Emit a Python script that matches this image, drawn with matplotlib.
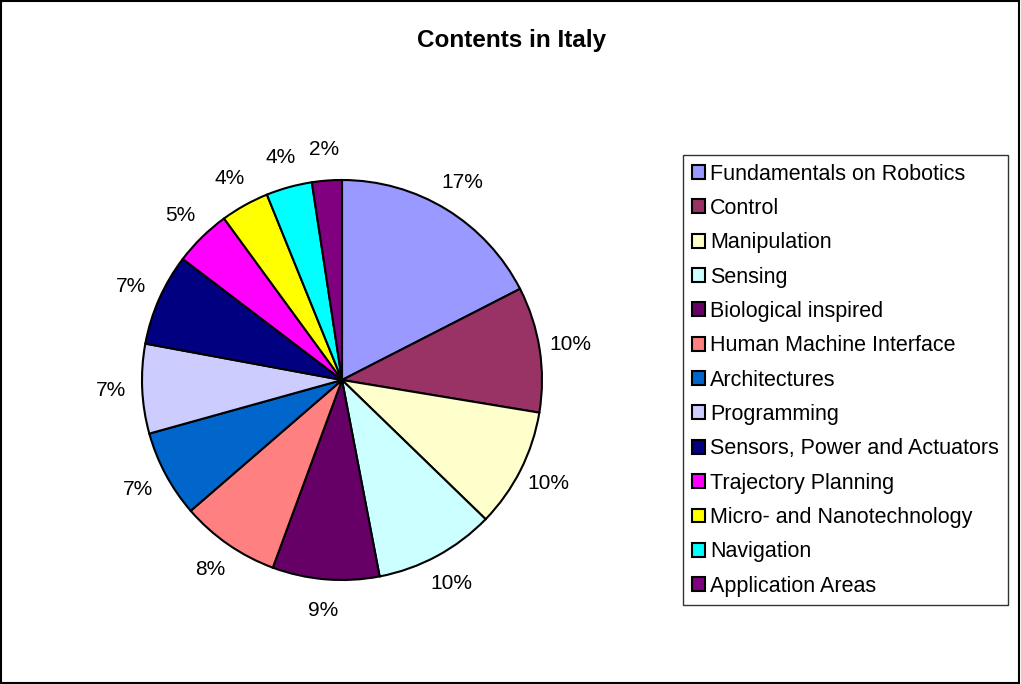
import matplotlib.pyplot as plt
from matplotlib.patches import Patch, Rectangle

plt.rcParams['font.family'] = ['Liberation Sans', 'DejaVu Sans']

# Data (share of contents, %)
topics = ["Fundamentals on Robotics", "Control", "Manipulation", "Sensing",
          "Biological inspired", "Human Machine Interface", "Architectures",
          "Programming", "Sensors, Power and Actuators", "Trajectory Planning",
          "Micro- and Nanotechnology", "Navigation", "Application Areas"]
shares = [17.4, 10.1, 9.6, 9.7, 8.6, 8.0, 7.0, 7.2, 7.4, 4.6, 3.9, 3.7, 2.4]
colors = ["#9999FF", "#993366", "#FFFFCC", "#CCFFFF", "#660066", "#FF8080",
          "#0066CC", "#CCCCFF", "#000080", "#FF00FF", "#FFFF00", "#00FFFF",
          "#800080"]

W, H = 1021, 684
fig = plt.figure(figsize=(W / 100, H / 100), dpi=100)

# pie area: centre (342, 380), radius 200 px
ax = fig.add_axes([(342 - 200) / W, (H - 580) / H, 400 / W, 400 / H])
wedges, texts, autotexts = ax.pie(
    shares, colors=colors, startangle=90, counterclock=False,
    autopct=lambda p: "{:.0f}%".format(p), pctdistance=1.155,
    wedgeprops=dict(edgecolor="black", linewidth=1.5),
    textprops=dict(fontsize=15, color="black"))
ax.set_xlim(-1, 1)
ax.set_ylim(-1, 1)
ax.set_aspect("equal")

fig.text(512 / W, 1 - 40 / H, "Contents in Italy", ha="center", va="center",
         fontsize=17.5, fontweight="bold")

handles = [Patch(facecolor=c, edgecolor="black", linewidth=1.5) for c in colors]
leg = fig.legend(handles, topics, loc="upper left",
                 bbox_to_anchor=(683 / W, 1 - 155 / H), borderaxespad=0,
                 fontsize=15.5, frameon=True, fancybox=False, shadow=False,
                 handlelength=0.62, handleheight=0.62, handletextpad=0.25,
                 labelspacing=0.62, borderpad=0.4)
leg.get_frame().set_edgecolor("black")
leg.get_frame().set_linewidth(1.0)

# outer chart border
fig.patches.append(Rectangle((0.001, 0.001), 0.997, 0.997, transform=fig.transFigure,
                             fill=False, edgecolor="black", linewidth=1.5))

fig.savefig("out.png", dpi=100)
